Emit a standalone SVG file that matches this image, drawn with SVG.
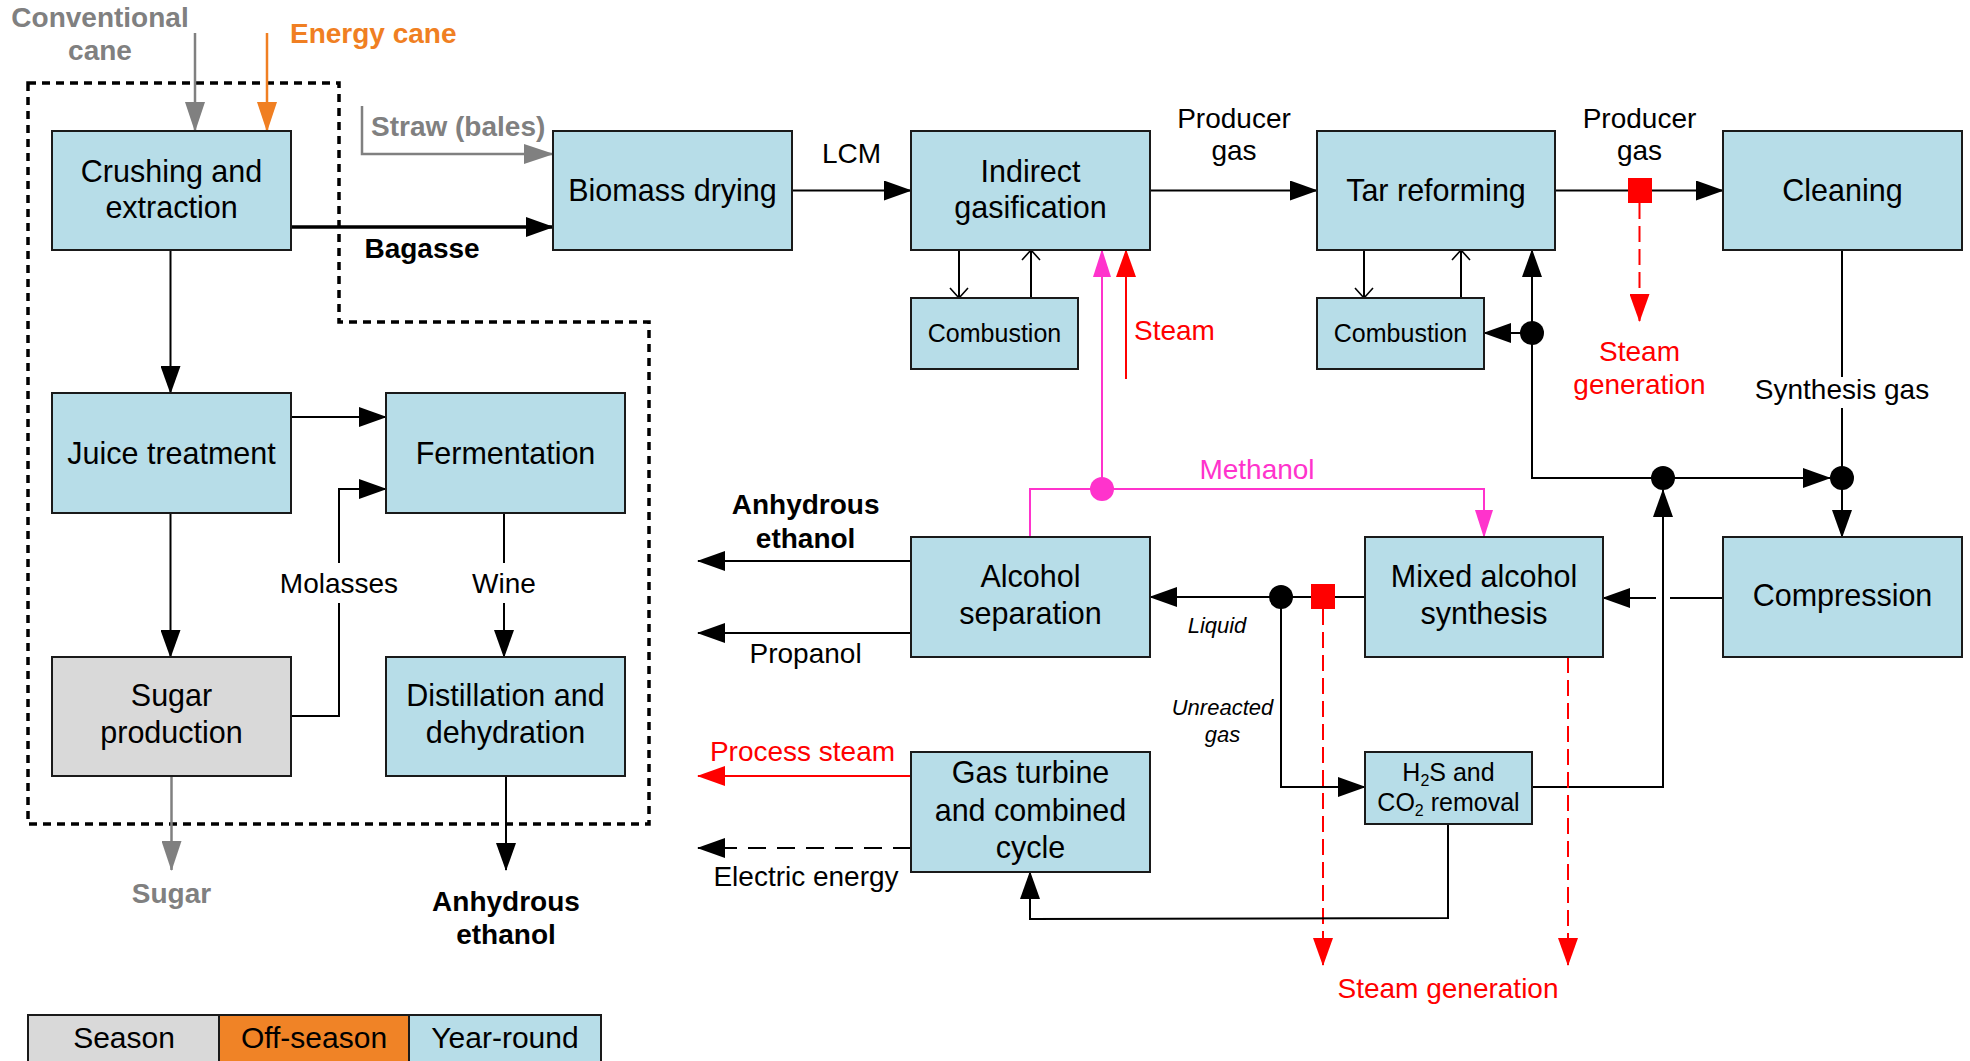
<svg xmlns="http://www.w3.org/2000/svg" width="1970" height="1061" viewBox="0 0 1970 1061">
<style>
text{font-family:"Liberation Sans",Arial,sans-serif;}
.box{fill:#b7dde8;stroke:#1a1a1a;stroke-width:2;}
.grey{fill:#d9d9d9;stroke:#1a1a1a;stroke-width:2;}
.nt{font-size:30.5px;fill:#000;text-anchor:middle;}
.st{font-size:25px;fill:#000;text-anchor:middle;}
.lb{font-size:28px;fill:#000;text-anchor:middle;}
.bold{font-weight:bold;}
.it{font-size:22px;font-style:italic;fill:#000;text-anchor:middle;}
.c{fill:none;stroke:#000;stroke-width:2;}
.red{fill:none;stroke:#ff0000;stroke-width:2;}
.mag{fill:none;stroke:#ff33cc;stroke-width:2;}
.gry{fill:none;stroke:#808080;stroke-width:2.5;}
.rdash{fill:none;stroke:#ff0000;stroke-width:2;stroke-dasharray:16 7;}
</style>
<defs>
<marker id="ab" markerUnits="userSpaceOnUse" markerWidth="28" markerHeight="20" refX="27" refY="10" orient="auto" viewBox="0 0 28 20"><path d="M0,0L28,10L0,20z" fill="#000"/></marker>
<marker id="ag" markerUnits="userSpaceOnUse" markerWidth="30" markerHeight="20" refX="29" refY="10" orient="auto" viewBox="0 0 30 20"><path d="M0,0L30,10L0,20z" fill="#808080"/></marker>
<marker id="ao" markerUnits="userSpaceOnUse" markerWidth="30" markerHeight="20" refX="29" refY="10" orient="auto" viewBox="0 0 30 20"><path d="M0,0L30,10L0,20z" fill="#f07f22"/></marker>
<marker id="ar" markerUnits="userSpaceOnUse" markerWidth="28" markerHeight="20" refX="27" refY="10" orient="auto" viewBox="0 0 28 20"><path d="M0,0L28,10L0,20z" fill="#ff0000"/></marker>
<marker id="am" markerUnits="userSpaceOnUse" markerWidth="28" markerHeight="18" refX="27" refY="9" orient="auto" viewBox="0 0 28 18"><path d="M0,0L28,9L0,18z" fill="#ff33cc"/></marker>
<marker id="av" markerUnits="userSpaceOnUse" markerWidth="12" markerHeight="20" refX="11" refY="10" orient="auto" viewBox="0 0 12 20"><path d="M1,1L11,10L1,19" fill="none" stroke="#000" stroke-width="1.6"/></marker>
</defs>
<rect width="1970" height="1061" fill="#fff"/>

<!-- season boundary -->
<path d="M28,83H339V322H649V824H28Z" fill="none" stroke="#000" stroke-width="3.5" stroke-dasharray="8 6"/>

<g id="connectors">
<path class="gry" d="M195,33V131" marker-end="url(#ag)"/>
<path d="M267,33V131" fill="none" stroke="#f07f22" stroke-width="2.5" marker-end="url(#ao)"/>
<path class="gry" d="M362,106V154H553" marker-end="url(#ag)"/>
<path d="M291,227H553" fill="none" stroke="#000" stroke-width="3.5" marker-end="url(#ab)"/>
<path class="c" d="M170.5,250V393" marker-end="url(#ab)"/>
<path class="c" d="M291,417H386" marker-end="url(#ab)"/>
<path class="c" d="M170.5,513V657" marker-end="url(#ab)"/>
<path class="c" d="M291,716H339V603"/>
<path class="c" d="M339,563V489H386" marker-end="url(#ab)"/>
<path class="c" d="M504,513V563"/>
<path class="c" d="M504,603V657" marker-end="url(#ab)"/>
<path class="gry" d="M171.5,776V870" marker-end="url(#ag)"/>
<path class="c" d="M506,776V870" marker-end="url(#ab)"/>
<path class="c" d="M792,190.5H911" marker-end="url(#ab)"/>
<path class="c" d="M1150,190.5H1317" marker-end="url(#ab)"/>
<path class="c" d="M959,250V298" marker-end="url(#av)"/>
<path class="c" d="M1031,298V250" marker-end="url(#av)"/>
<path class="mag" d="M1102,489V250" marker-end="url(#am)"/>
<path class="red" d="M1126,379V250" marker-end="url(#ar)"/>
<path class="c" d="M1555,190.5H1723" marker-end="url(#ab)"/>
<path class="rdash" d="M1639.5,203V321" marker-end="url(#ar)"/>
<path class="c" d="M1364,250V298" marker-end="url(#av)"/>
<path class="c" d="M1461,298V250" marker-end="url(#av)"/>
<path class="c" d="M1663,478H1532V250" marker-end="url(#ab)"/>
<path class="c" d="M1532,333H1484" marker-end="url(#ab)"/>
<path class="c" d="M1663,478H1830" marker-end="url(#ab)"/>
<path class="c" d="M1842,250V377"/>
<path class="c" d="M1842,408V478"/>
<path class="c" d="M1842,478V537" marker-end="url(#ab)"/>
<path class="c" d="M1723,598H1670"/>
<path class="c" d="M1656,598H1603" marker-end="url(#ab)"/>
<path class="c" d="M1532,787H1663V490" marker-end="url(#ab)"/>
<path class="mag" d="M1030,537V489H1484V537" marker-end="url(#am)"/>
<path class="c" d="M1365,597H1150" marker-end="url(#ab)"/>
<path class="c" d="M1281,597V787H1365" marker-end="url(#ab)"/>
<path class="rdash" d="M1323,609V965" marker-end="url(#ar)"/>
<path class="rdash" d="M1568,657V965" marker-end="url(#ar)"/>
<path class="c" d="M1448,824V918L1030,919V872" marker-end="url(#ab)"/>
<path class="red" d="M911,776H698" marker-end="url(#ar)"/>
<path class="c" d="M911,848H698" stroke-dasharray="18 11" marker-end="url(#ab)"/>
<path class="c" d="M911,561H698" marker-end="url(#ab)"/>
<path class="c" d="M911,633H698" marker-end="url(#ab)"/>
<circle cx="1532" cy="333" r="12" fill="#000"/>
<circle cx="1663" cy="478" r="12" fill="#000"/>
<circle cx="1842" cy="478" r="12" fill="#000"/>
<circle cx="1281" cy="597" r="12" fill="#000"/>
<circle cx="1102" cy="489" r="12" fill="#ff33cc"/>
<rect x="1628" y="178" width="24" height="25" fill="#ff0000"/>
<rect x="1311" y="584" width="24" height="25" fill="#ff0000"/>
</g>

<g id="n-crushing"><rect class="box" x="52" y="131" width="239" height="119"/><text class="nt" x="171.5" y="181.7">Crushing and</text><text class="nt" x="171.5" y="218">extraction</text></g>
<g id="n-biomass"><rect class="box" x="553" y="131" width="239" height="119"/><text class="nt" x="672.5" y="200.5">Biomass drying</text></g>
<g id="n-gasification"><rect class="box" x="911" y="131" width="239" height="119"/><text class="nt" x="1030.5" y="181.7">Indirect</text><text class="nt" x="1030.5" y="218">gasification</text></g>
<g id="n-tar"><rect class="box" x="1317" y="131" width="238" height="119"/><text class="nt" x="1436" y="200.5">Tar reforming</text></g>
<g id="n-cleaning"><rect class="box" x="1723" y="131" width="239" height="119"/><text class="nt" x="1842.5" y="200.5">Cleaning</text></g>
<g id="n-comb1"><rect class="box" x="911" y="298" width="167" height="71"/><text class="st" x="994.5" y="342">Combustion</text></g>
<g id="n-comb2"><rect class="box" x="1317" y="298" width="167" height="71"/><text class="st" x="1400.5" y="342">Combustion</text></g>
<g id="n-juice"><rect class="box" x="52" y="393" width="239" height="120"/><text class="nt" x="171.5" y="463.5">Juice treatment</text></g>
<g id="n-ferm"><rect class="box" x="386" y="393" width="239" height="120"/><text class="nt" x="505.5" y="463.5">Fermentation</text></g>
<g id="n-sugar"><rect class="grey" x="52" y="657" width="239" height="119"/><text class="nt" x="171.5" y="705.5">Sugar</text><text class="nt" x="171.5" y="743">production</text></g>
<g id="n-dist"><rect class="box" x="386" y="657" width="239" height="119"/><text class="nt" x="505.5" y="705.5">Distillation and</text><text class="nt" x="505.5" y="743">dehydration</text></g>
<g id="n-alcsep"><rect class="box" x="911" y="537" width="239" height="120"/><text class="nt" x="1030.5" y="587.3">Alcohol</text><text class="nt" x="1030.5" y="624.3">separation</text></g>
<g id="n-mixed"><rect class="box" x="1365" y="537" width="238" height="120"/><text class="nt" x="1484" y="587.3">Mixed alcohol</text><text class="nt" x="1484" y="624.3">synthesis</text></g>
<g id="n-compression"><rect class="box" x="1723" y="537" width="239" height="120"/><text class="nt" x="1842.5" y="606">Compression</text></g>
<g id="n-gasturbine"><rect class="box" x="911" y="752" width="239" height="120"/><text class="nt" x="1030.5" y="783">Gas turbine</text><text class="nt" x="1030.5" y="820.5">and combined</text><text class="nt" x="1030.5" y="858">cycle</text></g>
<g id="n-h2s"><rect class="box" x="1365" y="752" width="167" height="72"/><text class="st" x="1448.5" y="780.7">H<tspan font-size="16" dy="5">2</tspan><tspan dy="-5">S and</tspan></text><text class="st" x="1448.5" y="810.7">CO<tspan font-size="16" dy="5">2</tspan><tspan dy="-5"> removal</tspan></text></g>

<g id="labels">
<text class="lb bold" x="100" y="26.7" style="fill:#808080">Conventional</text>
<text class="lb bold" x="100" y="60" style="fill:#808080">cane</text>
<text class="lb bold" x="290" y="43.3" style="fill:#f07f22;text-anchor:start">Energy cane</text>
<text class="lb bold" x="371" y="136" style="fill:#808080;text-anchor:start">Straw (bales)</text>
<text class="lb bold" x="422" y="258">Bagasse</text>
<text class="lb" x="339" y="593.3">Molasses</text>
<text class="lb" x="504" y="593.3">Wine</text>
<text class="lb bold" x="171.5" y="903.3" style="fill:#808080">Sugar</text>
<text class="lb bold" x="506" y="910.7">Anhydrous</text>
<text class="lb bold" x="506" y="944">ethanol</text>
<text class="lb" x="851.5" y="162.7">LCM</text>
<text class="lb" x="1234" y="127.7">Producer</text>
<text class="lb" x="1234" y="160">gas</text>
<text class="lb" x="1134" y="340" style="fill:#ff0000;text-anchor:start">Steam</text>
<text class="lb" x="1639.5" y="127.7">Producer</text>
<text class="lb" x="1639.5" y="160">gas</text>
<text class="lb" x="1639.5" y="360.7" style="fill:#ff0000">Steam</text>
<text class="lb" x="1639.5" y="394" style="fill:#ff0000">generation</text>
<text class="lb" x="1842" y="399">Synthesis gas</text>
<text class="lb" x="1257" y="479" style="fill:#ff33cc">Methanol</text>
<text class="lb bold" x="805.6" y="514.3">Anhydrous</text>
<text class="lb bold" x="805.6" y="547.7">ethanol</text>
<text class="lb" x="805.6" y="663.3">Propanol</text>
<text class="it" x="1217" y="633.3">Liquid</text>
<text class="it" x="1222.5" y="715">Unreacted</text>
<text class="it" x="1222.5" y="742">gas</text>
<text class="lb" x="802.5" y="760.7" style="fill:#ff0000">Process steam</text>
<text class="lb" x="806" y="886">Electric energy</text>
<text class="lb" x="1448" y="998.3" style="fill:#ff0000">Steam generation</text>
</g>

<g id="legend">
<rect x="28" y="1015" width="191" height="52" fill="#d9d9d9" stroke="#1a1a1a" stroke-width="2"/>
<rect x="219" y="1015" width="190" height="52" fill="#f08326" stroke="#1a1a1a" stroke-width="2"/>
<rect x="409" y="1015" width="192" height="52" fill="#b7dde8" stroke="#1a1a1a" stroke-width="2"/>
<text class="nt" x="124" y="1048.3" style="font-size:30px">Season</text>
<text class="nt" x="314" y="1048.3" style="font-size:30px">Off-season</text>
<text class="nt" x="505" y="1048.3" style="font-size:30px">Year-round</text>
</g>
</svg>
